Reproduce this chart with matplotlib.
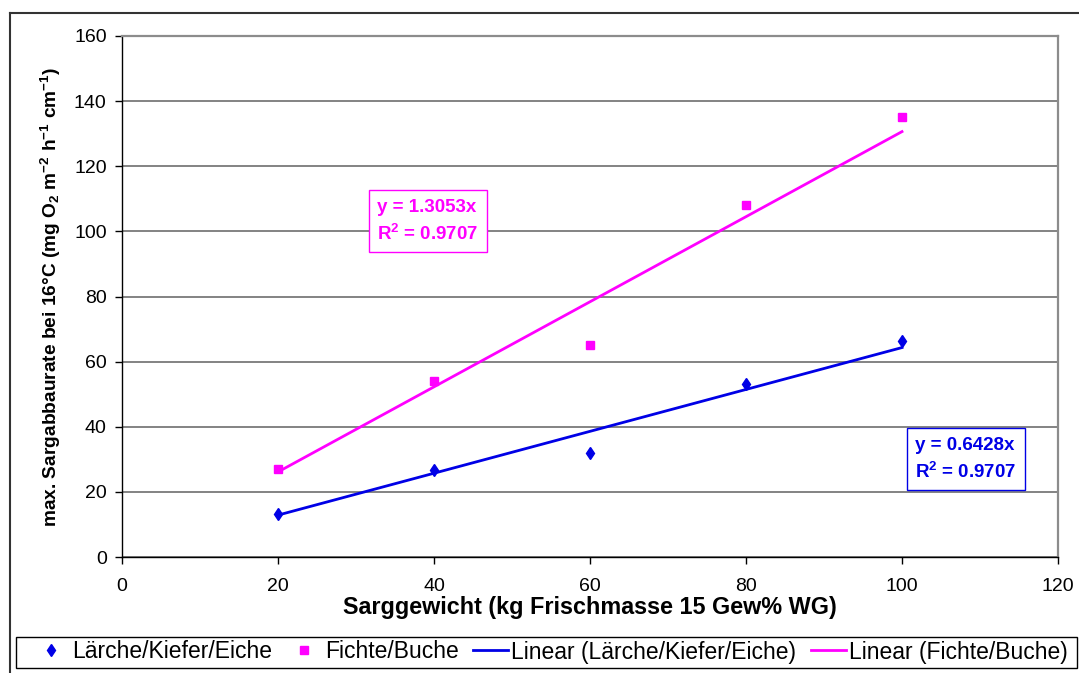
import numpy as np
import matplotlib
matplotlib.use('Agg')
import matplotlib.pyplot as plt
from matplotlib.lines import Line2D
from matplotlib.patches import Rectangle
from matplotlib.legend_handler import HandlerLine2D

plt.rcParams['font.family'] = ['Liberation Sans', 'DejaVu Sans']
plt.rcParams['mathtext.fontset'] = 'custom'
plt.rcParams['mathtext.rm'] = 'Liberation Sans:bold'
plt.rcParams['mathtext.bf'] = 'Liberation Sans:bold'
plt.rcParams['mathtext.it'] = 'Liberation Sans:bold:italic'

# data
sarggewicht = [20, 40, 60, 80, 100]
laerche = [13.3, 26.7, 32.0, 53.2, 66.4]
fichte = [27.0, 54.0, 65.0, 108.0, 135.0]

BLUE = '#0000E6'
PINK = '#FF00FF'

def slope_through_origin(x, y):
    x = np.asarray(x, dtype=float)
    y = np.asarray(y, dtype=float)
    return np.sum(x * y) / np.sum(x * x)

k_blue = slope_through_origin(sarggewicht, laerche)
k_pink = slope_through_origin(sarggewicht, fichte)


class MarkerRight(HandlerLine2D):
    # put the lone marker near the text, like the Excel legend
    def get_xdata(self, legend, xdescent, ydescent, width, height, fontsize):
        xdata = np.array([-xdescent, -xdescent + width])
        xmark = np.array([-xdescent + 0.6 * width])
        return xdata, xmark


fig = plt.figure(figsize=(10.79, 6.73), dpi=100)
ax = fig.add_axes([122/1079, 1 - 557/673, (1058-122)/1079, (557-36)/673])

ax.set_xlim(0, 120)
ax.set_ylim(0, 160)
ax.set_xticks(np.arange(0, 121, 20))
ax.set_yticks(np.arange(0, 161, 20))
ax.yaxis.grid(True, color='#6e6e6e', linewidth=1.2)
ax.set_axisbelow(True)

for s in ['top', 'right']:
    ax.spines[s].set_color('#8c8c8c')
    ax.spines[s].set_linewidth(1.6)
for s in ['left', 'bottom']:
    ax.spines[s].set_color('black')
    ax.spines[s].set_linewidth(1.0)

ax.tick_params(axis='both', direction='out', length=5, width=1, labelsize=14)
ax.tick_params(axis='y', pad=6)
ax.tick_params(axis='x', pad=10)

xs = np.array([min(sarggewicht), max(sarggewicht)])
l3, = ax.plot(xs, k_blue * xs, color=BLUE, linewidth=2.0, label='Linear (Lärche/Kiefer/Eiche)')
l4, = ax.plot(xs, k_pink * xs, color=PINK, linewidth=2.0, label='Linear (Fichte/Buche)')
l1, = ax.plot(sarggewicht, laerche, linestyle='none', marker='d', markersize=6.5,
              color=BLUE, label='Lärche/Kiefer/Eiche', clip_on=False)
l2, = ax.plot(sarggewicht, fichte, linestyle='none', marker='s', markersize=5.5,
              color=PINK, label='Fichte/Buche', clip_on=False)

ax.text(32.7, 110.0, 'y = %.4fx\nR$^2$ = 0.9707' % 1.3053, color=PINK, fontsize=13.5,
        fontweight='bold', ha='left', va='top', linespacing=1.5,
        bbox=dict(boxstyle='square,pad=0.45', facecolor='white', edgecolor=PINK, linewidth=1))
ax.text(101.7, 36.9, 'y = %.4fx\nR$^2$ = 0.9707' % 0.6428, color=BLUE, fontsize=13.5,
        fontweight='bold', ha='left', va='top', linespacing=1.5,
        bbox=dict(boxstyle='square,pad=0.45', facecolor='white', edgecolor=BLUE, linewidth=1))

ax.set_xlabel('Sarggewicht (kg Frischmasse 15 Gew% WG)', fontsize=16.8, fontweight='bold', labelpad=1)
ax.set_ylabel('max. Sargabbaurate bei 16°C (mg O$_2$ m$^{-2}$ h$^{-1}$ cm$^{-1}$)',
              fontsize=13.8, fontweight='bold', labelpad=8)

# legend box at the bottom
fig.add_artist(Rectangle((16/1079, 1 - 668/673), (1077-16)/1079, 31/673,
                         transform=fig.transFigure, facecolor='white',
                         edgecolor='black', linewidth=1))
fig.legend(handles=[l1, l2, l3, l4], loc='center', ncol=4, frameon=False,
           bbox_to_anchor=(551/1079, 1 - 652/673), fontsize=16.5,
           handlelength=1.5, handletextpad=0.15, columnspacing=0.65, borderpad=0,
           handler_map={l1: MarkerRight(), l2: MarkerRight()})

# outer chart frame (cut off right and bottom)
fig.add_artist(Line2D([10/1079, 1], [1 - 13/673, 1 - 13/673], transform=fig.transFigure,
                      color='#333333', linewidth=1.5))
fig.add_artist(Line2D([10/1079, 10/1079], [1 - 13/673, 0], transform=fig.transFigure,
                      color='#333333', linewidth=1.5))

fig.savefig('out.png', dpi=100)
